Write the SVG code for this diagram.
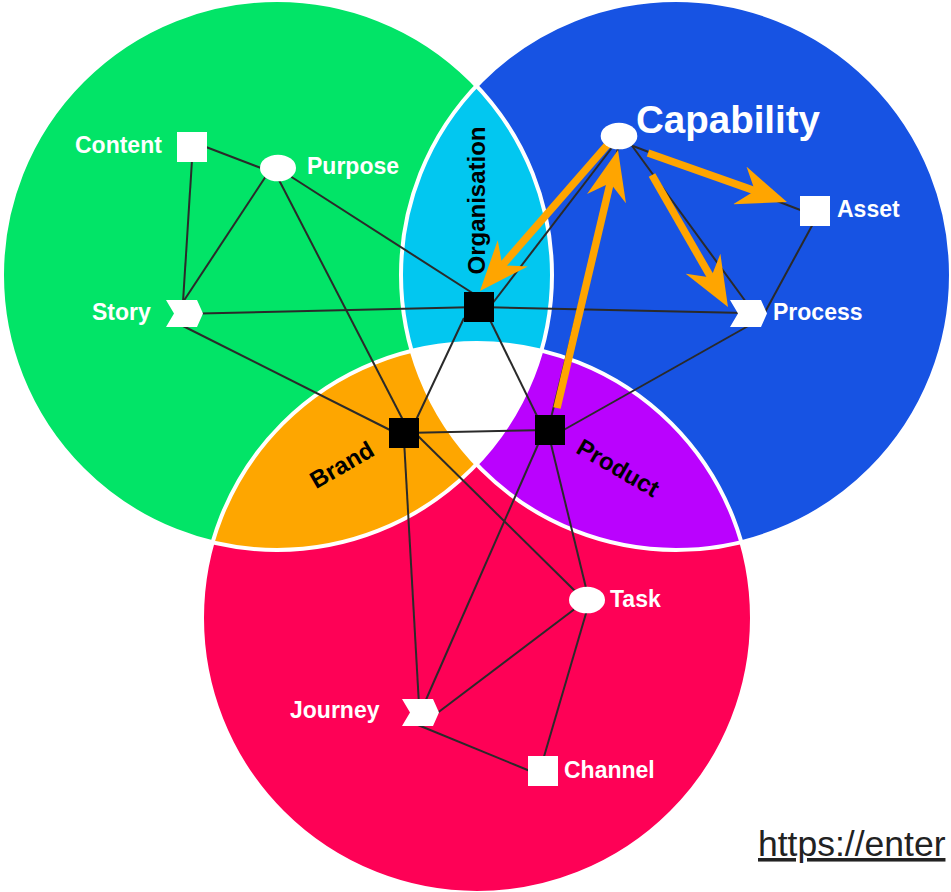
<svg xmlns="http://www.w3.org/2000/svg" xmlns:xlink="http://www.w3.org/1999/xlink" width="951" height="892" viewBox="0 0 951 892">
<style>
.ln{stroke:#2a2a2a;stroke-width:2;fill:none}
.ar{stroke:#FFA500;stroke-width:7.5;fill:none;marker-end:url(#ah)}
.lb{font-family:"Liberation Sans",Arial,sans-serif;font-weight:bold;font-size:23px;fill:#fff}
.hl{font-family:"Liberation Sans",Arial,sans-serif;font-weight:bold;font-size:24px;fill:#000}
.wn{fill:#fff}
.hub{fill:#000}
.edge{fill:none;stroke:#fff;stroke-width:4}
</style>
<defs>
<clipPath id="cG"><circle cx="277" cy="275" r="275"/></clipPath>
<clipPath id="cB"><circle cx="676" cy="275" r="275"/></clipPath>
<marker id="ah" markerUnits="userSpaceOnUse" viewBox="0 0 50 40" refX="30" refY="20" markerWidth="50" markerHeight="40" orient="auto"><path d="M50,20 L0,0 L16,20 L0,40 Z" fill="#FFA500"/></marker>
<polygon id="chev" points="0,0 31,0 37,13.5 31,27 0,27 8,13.5"/>
</defs>

<g id="regions">
<circle cx="277" cy="275" r="275" fill="#02E467"/>
<circle cx="676" cy="275" r="275" fill="#1753E3"/>
<circle cx="477" cy="618" r="275" fill="#FE0156"/>
<circle cx="676" cy="275" r="275" fill="#02C7F0" clip-path="url(#cG)"/>
<circle cx="477" cy="618" r="275" fill="#FEA600" clip-path="url(#cG)"/>
<circle cx="477" cy="618" r="275" fill="#BA02FE" clip-path="url(#cB)"/>
<g clip-path="url(#cG)"><circle cx="477" cy="618" r="275" fill="#fff" clip-path="url(#cB)"/></g>
<circle class="edge" cx="277" cy="275" r="275"/>
<circle class="edge" cx="676" cy="275" r="275"/>
<circle class="edge" cx="477" cy="618" r="275"/>
</g>

<g id="connectors">
<line class="ln" x1="206" y1="147" x2="261" y2="168"/>
<line class="ln" x1="192" y1="160" x2="183" y2="302"/>
<line class="ln" x1="268" y1="173" x2="183" y2="302"/>
<line class="ln" x1="290" y1="176" x2="474" y2="294"/>
<line class="ln" x1="279" y1="180" x2="404" y2="422"/>
<line class="ln" x1="200" y1="313.5" x2="479" y2="307"/>
<line class="ln" x1="183" y1="326" x2="392" y2="431"/>
<line class="ln" x1="479" y1="307" x2="745" y2="313"/>
<line class="ln" x1="614" y1="145" x2="492" y2="304"/>
<line class="ln" x1="464" y1="318" x2="416" y2="420"/>
<line class="ln" x1="489" y1="318" x2="538" y2="418"/>
<line class="ln" x1="404" y1="433" x2="550" y2="430"/>
<line class="ln" x1="404" y1="440" x2="419" y2="705"/>
<line class="ln" x1="416" y1="434" x2="576" y2="592"/>
<line class="ln" x1="540" y1="440" x2="425" y2="702"/>
<line class="ln" x1="550" y1="440" x2="587" y2="592"/>
<line class="ln" x1="560" y1="432" x2="750" y2="325"/>
<line class="ln" x1="551" y1="418" x2="618" y2="148"/>
<line class="ln" x1="576" y1="608" x2="436" y2="714"/>
<line class="ln" x1="587" y1="610" x2="543" y2="760"/>
<line class="ln" x1="418" y1="725" x2="530" y2="771"/>
<line class="ln" x1="814" y1="222" x2="764" y2="314"/>
<line class="ln" x1="630" y1="143" x2="746" y2="302"/>
<line class="ln" x1="633" y1="146" x2="803" y2="211"/>
<path class="ar" d="M609,143 L493.1,275.9"/>
<path class="ar" d="M648,153 L768.1,195.4"/>
<path class="ar" d="M652,175 L718,289.7"/>
<path class="ar" d="M557,408 L613.4,169.5"/>
</g>

<g id="content"><rect class="wn" x="177" y="132" width="30" height="30"/><text class="lb" x="75" y="153">Content</text></g>
<g id="purpose"><ellipse class="wn" cx="278" cy="168" rx="18" ry="13.3"/><text class="lb" x="307" y="174">Purpose</text></g>
<g id="story"><use href="#chev" x="166" y="300" fill="#fff"/><text class="lb" x="92" y="320">Story</text></g>
<g id="capability"><ellipse class="wn" cx="619" cy="136" rx="18.3" ry="13.3"/><text class="lb" x="636" y="133" style="font-size:38.5px">Capability</text></g>
<g id="asset"><rect class="wn" x="800" y="196" width="30" height="30"/><text class="lb" x="837" y="217">Asset</text></g>
<g id="process"><use href="#chev" x="730" y="300" fill="#fff"/><text class="lb" x="773" y="320">Process</text></g>
<g id="organisation"><rect class="hub" x="464" y="292" width="30" height="30"/><text class="hl" text-anchor="middle" transform="translate(485,200.5) rotate(-90)">Organisation</text></g>
<g id="brand"><rect class="hub" x="389" y="418" width="30" height="30"/><text class="hl" text-anchor="middle" transform="translate(346,472) rotate(-30)">Brand</text></g>
<g id="product"><rect class="hub" x="535" y="415" width="30" height="30"/><text class="hl" text-anchor="middle" transform="translate(614,475) rotate(30)">Product</text></g>
<g id="journey"><use href="#chev" x="402" y="699" fill="#fff"/><text class="lb" x="290" y="718">Journey</text></g>
<g id="task"><ellipse class="wn" cx="587" cy="600" rx="18" ry="13.3"/><text class="lb" x="610" y="607">Task</text></g>
<g id="channel"><rect class="wn" x="528" y="756" width="30" height="30"/><text class="lb" x="564" y="778">Channel</text></g>

<text x="758" y="856" style="font-family:'Liberation Sans',Arial,sans-serif;font-size:35.5px;fill:#222;text-decoration:underline">https://enter</text>
</svg>
